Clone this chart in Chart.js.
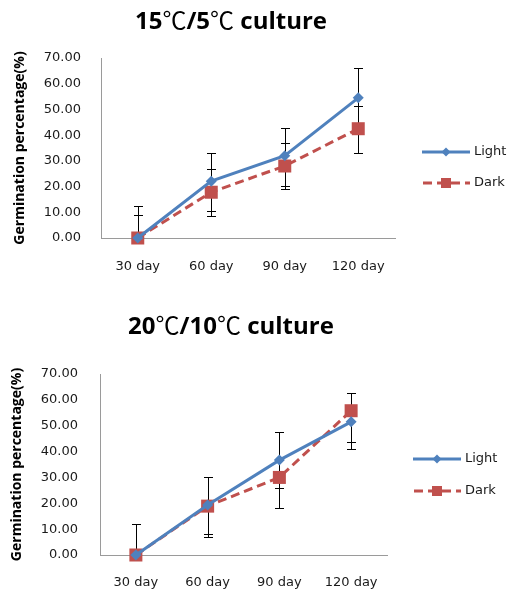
<!DOCTYPE html>
<html>
<head>
<meta charset="utf-8">
<title>Germination percentage</title>
<script src="https://cdn.jsdelivr.net/npm/chart.js@4.4.0/dist/chart.umd.min.js"></script>
<style>
    body { margin: 0; background: #fff; }
    .panel { position: relative; width: 508px; height: 298px; }
    .panel canvas { position: absolute; left: 0; top: 0; }
    .title {
        position: absolute; left: 0; width: 462px; text-align: center;
        font: bold 24px "Open Sans", "Noto Sans CJK KR", sans-serif;
        line-height: 32px; color: #000; z-index: 2;
    }
    .title .deg { font-weight: normal; font-family: "Noto Sans CJK KR", sans-serif; }
</style>
</head>
<body>
<div class="panel">
    <div class="title" style="top:3px">15<span class="deg">℃</span>/5<span class="deg">℃</span> culture</div>
    <canvas id="chart1" width="508" height="298"></canvas>
</div>
<div class="panel">
    <div class="title" style="top:10px">20<span class="deg">℃</span>/10<span class="deg">℃</span> culture</div>
    <canvas id="chart2" width="508" height="298"></canvas>
</div>
<script>
// Categories and axis ticks
const days = ['30 day', '60 day', '90 day', '120 day'];
const yTicks = [0, 10, 20, 30, 40, 50, 60, 70];

// 15/5 culture
const light1 = [0, 22.1, 32.0, 54.5];
const light1Plus = [12.3, 10.8, 10.9, 11.6];
const light1Minus = [12.3, 11.5, 11.8, 11.6];
const dark1 = [0, 17.8, 28.0, 42.5];
const dark1Plus = [8.8, 8.9, 8.8, 8.7];
const dark1Minus = [8.8, 9.1, 8.8, 9.5];

// 20/10 culture
const light2 = [0, 19.3, 36.7, 51.5];
const light2Plus = [11.9, 11.0, 10.7, 11.3];
const light2Minus = [11.9, 11.3, 10.9, 10.5];
const dark2 = [0, 18.9, 30.0, 55.8];
const dark2Plus = [11.9, 11.4, 6.7, 7.0];
const dark2Minus = [11.9, 11.8, 11.9, 12.0];

const BLUE = '#4F81BD';
const RED = '#C0504D';
const TICK_FONT = { family: '"DejaVu Sans", sans-serif', size: 13 };

// Vertical error bars with caps, drawn under the markers
const errorBars = {
    id: 'errorBars',
    beforeDatasetsDraw(chart) {
        const { ctx, chartArea, scales: { x, y } } = chart;
        ctx.save();
        ctx.beginPath();
        ctx.rect(chartArea.left, chartArea.top, chartArea.right - chartArea.left, chartArea.bottom - chartArea.top + 1);
        ctx.clip();
        ctx.strokeStyle = '#000';
        ctx.lineWidth = 1;
        chart.data.datasets.forEach(ds => {
            ds.data.forEach((v, i) => {
                const px = Math.round(x.getPixelForValue(i)) + 0.5;
                const top = Math.round(y.getPixelForValue(v + ds.errPlus[i])) + 0.5;
                const bot = Math.round(y.getPixelForValue(v - ds.errMinus[i])) + 0.5;
                ctx.beginPath();
                ctx.moveTo(px, top); ctx.lineTo(px, bot);
                ctx.moveTo(px - 4.5, top); ctx.lineTo(px + 4.5, top);
                ctx.moveTo(px - 4.5, bot); ctx.lineTo(px + 4.5, bot);
                ctx.stroke();
            });
        });
        ctx.restore();
    }
};

// Legend on the right: line sample with marker, then label
const sideLegend = {
    id: 'sideLegend',
    afterDraw(chart, args, opts) {
        const { ctx } = chart;
        ctx.save();
        chart.data.datasets.forEach((ds, i) => {
            const y = opts.y + i * opts.gap;
            const x0 = opts.x, x1 = opts.x + opts.len, xm = (x0 + x1) / 2;
            ctx.strokeStyle = ds.borderColor;
            ctx.lineWidth = 3;
            ctx.setLineDash(ds.borderDash || []);
            ctx.lineDashOffset = ds.borderDash ? -1 : 0;
            ctx.beginPath();
            ctx.moveTo(x0, y); ctx.lineTo(x1, y);
            ctx.stroke();
            ctx.setLineDash([]);
            ctx.fillStyle = ds.borderColor;
            ctx.beginPath();
            if (ds.pointStyle === 'rectRot') {
                ctx.moveTo(xm - 4.5, y); ctx.lineTo(xm, y - 4.5);
                ctx.lineTo(xm + 4.5, y); ctx.lineTo(xm, y + 4.5);
                ctx.closePath();
            } else {
                ctx.rect(xm - 5, y - 5, 10, 10);
            }
            ctx.fill();
            ctx.fillStyle = '#1a1a1a';
            ctx.font = '13px "DejaVu Sans", sans-serif';
            ctx.textBaseline = 'middle';
            ctx.textAlign = 'left';
            ctx.fillText(ds.label, x1 + 4, y);
        });
        ctx.restore();
    }
};

function makeChart(id, light, lightPlus, lightMinus, dark, darkPlus, darkMinus, box) {
    return new Chart(document.getElementById(id), {
        type: 'line',
        data: {
            labels: days,
            datasets: [{
                label: 'Light',
                data: light,
                errPlus: lightPlus,
                errMinus: lightMinus,
                borderColor: BLUE,
                backgroundColor: BLUE,
                borderWidth: 3,
                pointStyle: 'rectRot',
                pointRadius: 5.5,
                pointBorderWidth: 0,
                tension: 0,
                clip: false
            }, {
                label: 'Dark',
                data: dark,
                errPlus: darkPlus,
                errMinus: darkMinus,
                borderColor: RED,
                backgroundColor: RED,
                borderWidth: 3,
                borderDash: [9, 5],
                pointStyle: 'rect',
                pointRadius: 9.2,
                pointBorderWidth: 0,
                tension: 0,
                clip: false
            }]
        },
        options: {
            responsive: false,
            animation: false,
            devicePixelRatio: 1,
            layout: { padding: { top: box.top, right: box.right, bottom: box.bottom, left: 0 } },
            plugins: {
                legend: { display: false },
                tooltip: { enabled: false },
                sideLegend: box.legend
            },
            scales: {
                x: {
                    offset: true,
                    grid: { display: false, drawTicks: false },
                    border: { display: true, color: '#9a9a9a', width: 1 },
                    ticks: { color: '#1a1a1a', font: TICK_FONT, padding: box.xPad, maxRotation: 0 },
                    afterFit: s => { s.height = 40; }
                },
                y: {
                    min: 0,
                    max: 70,
                    afterBuildTicks: s => { s.ticks = yTicks.map(v => ({ value: v })); },
                    grid: { display: false, drawTicks: false },
                    border: { display: true, color: '#9a9a9a', width: 1 },
                    ticks: { color: '#1a1a1a', font: TICK_FONT, padding: box.yPad, callback: v => v.toFixed(2) },
                    title: {
                        display: true,
                        text: 'Germination percentage(%)',
                        color: '#000',
                        font: { family: '"Open Sans", sans-serif', size: 14, weight: 'bold' },
                        padding: { top: box.titlePad, bottom: 0 }
                    },
                    afterFit: s => { s.width = box.left; }
                }
            }
        },
        plugins: [errorBars, sideLegend]
    });
}

makeChart('chart1', light1, light1Plus, light1Minus, dark1, dark1Plus, dark1Minus, {
    top: 58, right: 113, bottom: 20, left: 101, xPad: 21, yPad: 20, titlePad: 12,
    legend: { x: 422, y: 152, gap: 31, len: 48 }
});
makeChart('chart2', light2, light2Plus, light2Minus, dark2, dark2Plus, dark2Minus, {
    top: 76, right: 121, bottom: 1, left: 100, xPad: 20, yPad: 22, titlePad: 9,
    legend: { x: 413, y: 161, gap: 32, len: 48 }
});
</script>
</body>
</html>
